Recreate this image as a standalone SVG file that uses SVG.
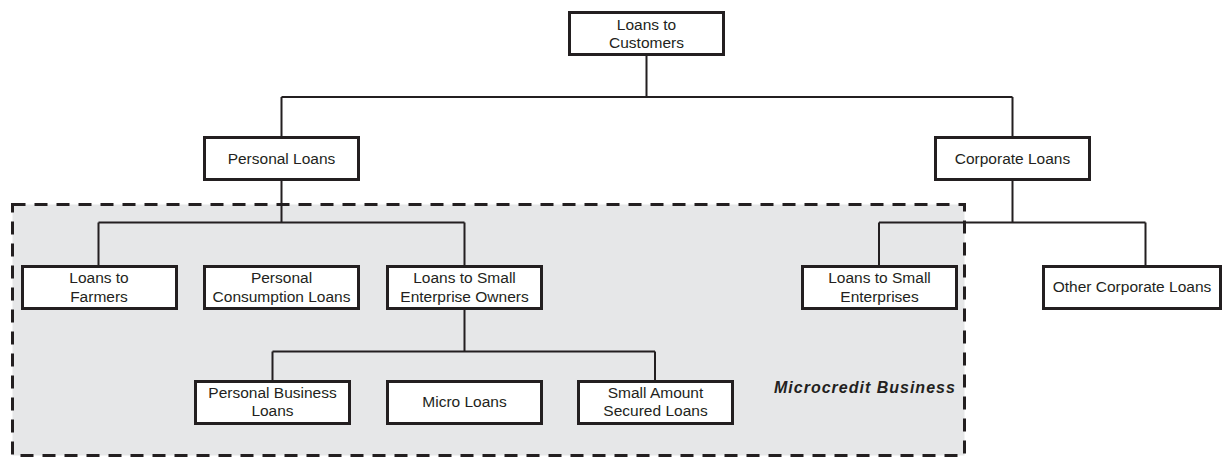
<svg xmlns="http://www.w3.org/2000/svg" width="1223" height="457" viewBox="0 0 1223 457">
<style>
.box{fill:#ffffff;stroke:#231f20;stroke-width:3}
.lbl{font-family:"Liberation Sans",Arial,sans-serif;font-size:15.5px;fill:#231f20;text-anchor:middle}
.con{fill:none;stroke:#231f20;stroke-width:2}
.zone{fill:#e6e7e8;stroke:#231f20;stroke-width:3;stroke-dasharray:13 9}
.title{font-family:"Liberation Sans",Arial,sans-serif;font-size:16px;font-weight:bold;font-style:italic;fill:#231f20;letter-spacing:1px}
</style>
<rect width="1223" height="457" fill="#ffffff"/>
<g id="microcredit-zone">
<rect class="zone" x="12.5" y="204.5" width="952" height="251"/>
<text class="title" x="774" y="393">Microcredit Business</text>
</g>
<g id="connectors">
<path class="con" d="M646.5 56V97M281.5 97H1012.5M281.5 97V136M1012.5 97V136"/>
<path class="con" d="M281.5 181V222.5M98.5 222.5H464.5M98.5 222.5V265M464.5 222.5V265"/>
<path class="con" d="M1012.5 181V222.5M879 222.5H1145.5M879 222.5V265M1145.5 222.5V265"/>
<path class="con" d="M464.5 310V351.5M272.5 351.5H655M272.5 351.5V380M655 351.5V380"/>
</g>
<g id="n-customers"><rect class="box" x="569.5" y="12.5" width="154" height="42"/><text class="lbl" x="646.5" y="29.5">Loans to</text><text class="lbl" x="646.5" y="47.5">Customers</text></g>
<g id="n-personal"><rect class="box" x="204.5" y="137.5" width="154" height="42"/><text class="lbl" x="281.5" y="163.5">Personal Loans</text></g>
<g id="n-corporate"><rect class="box" x="935.5" y="137.5" width="154" height="42"/><text class="lbl" x="1012.5" y="163.5">Corporate Loans</text></g>
<g id="n-farmers"><rect class="box" x="22.5" y="266.5" width="154" height="42"/><text class="lbl" x="99" y="283">Loans to</text><text class="lbl" x="99" y="301.5">Farmers</text></g>
<g id="n-consumption"><rect class="box" x="204.5" y="266.5" width="154" height="42"/><text class="lbl" x="281.5" y="283">Personal</text><text class="lbl" x="281.5" y="301.5">Consumption Loans</text></g>
<g id="n-lseo"><rect class="box" x="387.5" y="266.5" width="154" height="42"/><text class="lbl" x="464.5" y="283">Loans to Small</text><text class="lbl" x="464.5" y="301.5">Enterprise Owners</text></g>
<g id="n-lse"><rect class="box" x="802.5" y="266.5" width="154" height="42"/><text class="lbl" x="879.5" y="283">Loans to Small</text><text class="lbl" x="879.5" y="301.5">Enterprises</text></g>
<g id="n-other"><rect class="box" x="1043.5" y="266.5" width="177" height="42"/><text class="lbl" x="1132" y="292">Other Corporate Loans</text></g>
<g id="n-pbl"><rect class="box" x="195.5" y="381.5" width="154" height="42"/><text class="lbl" x="272.5" y="397.5">Personal Business</text><text class="lbl" x="272.5" y="416">Loans</text></g>
<g id="n-micro"><rect class="box" x="387.5" y="381.5" width="154" height="42"/><text class="lbl" x="464.5" y="406.5">Micro Loans</text></g>
<g id="n-sasl"><rect class="box" x="578.5" y="381.5" width="154" height="42"/><text class="lbl" x="655.5" y="397.5">Small Amount</text><text class="lbl" x="655.5" y="416">Secured Loans</text></g>
</svg>
